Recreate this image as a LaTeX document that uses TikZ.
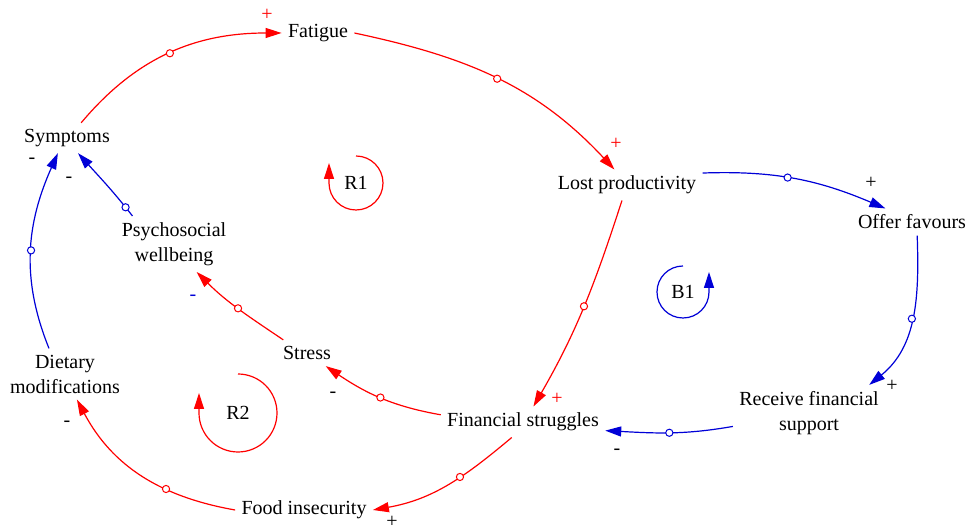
\documentclass[tikz,border=0pt]{standalone}
\usepackage{fontspec}
\setmainfont{Liberation Serif}
\newfontfamily\cldfont{Liberation Serif}
\usepackage{tikz}
\usetikzlibrary{arrows.meta}
\definecolor{linkred}{RGB}{255,0,0}
\definecolor{linkblue}{RGB}{0,0,215}
\tikzset{
  var/.style={align=center, inner sep=3pt, font=\cldfont\fontsize{10}{12.5}\selectfont},
  link/.style={line width=0.6pt, -{Triangle[length=8pt,width=5pt]}},
  redlink/.style={link, color=linkred},
  bluelink/.style={link, color=linkblue},
  hole/.style={circle, draw, fill=white, line width=0.5pt, inner sep=0pt, minimum size=3.6pt},
  pol/.style={inner sep=0pt, font=\cldfont\fontsize{10}{12}\selectfont},
  loopsym/.style={line width=0.6pt, -{Triangle[length=8pt,width=5pt]}}
}

\begin{document}
\begin{tikzpicture}[x=0.5pt, y=0.5pt]
  \useasboundingbox (0,0) rectangle (966,530);
  \node[var] (fat) at (318,497) {Fatigue};
  \node[var] (sym) at (67,392) {Symptoms};
  \node[var] (lost) at (627,345) {Lost productivity};
  \node[var] (offer) at (912,308) {Offer favours};
  \node[var] (psy) at (174,286) {Psychosocial\\wellbeing};
  \node[var] (stress) at (307,177) {Stress};
  \node[var] (diet) at (65,156) {Dietary\\modifications};
  \node[var] (fin) at (523,108) {Financial struggles};
  \node[var] (recv) at (809,117) {Receive financial\\support};
  \node[var] (food) at (304,20) {Food insecurity};

  \node[var] (r1) at (356,347) {R1};
  \node[var] (r2) at (238,117) {R2};
  \node[var] (b1) at (683,238) {B1};

  \draw[redlink] (sym.47) to[out=50, in=180] node[hole]{} (fat.west);
  \draw[redlink] (fat.east) to[out=-12, in=133] node[hole]{} (lost.129);
  \draw[redlink] (lost.252) to[out=-108, in=60] node[hole]{} (fin.56);
  \draw[bluelink] (lost.9) to[out=2, in=157] node[hole, pos=0.45]{} (offer.153);
  \draw[bluelink] (offer.291) to[out=-88, in=39] node[hole]{} (recv.25);
  \draw[bluelink] (recv.190) to[out=190, in=-3] node[hole]{} (fin.354);
  \draw[redlink] (fin.175) to[out=170, in=-34] node[hole]{} (stress.325);
  \draw[redlink] (stress.151) to[out=146, in=-45] node[hole]{} (psy.309);
  \draw[bluelink] (psy.146) to[out=128, in=-48] node[hole, pos=0.12]{} (sym.306);
  \draw[redlink] (fin.234) to[out=220, in=10] node[hole, pos=0.4]{} (food.east);
  \draw[redlink] (food.west) to[out=170, in=-62] node[hole, pos=0.35]{} (diet.295);
  \draw[bluelink] (diet.122) to[out=112, in=-114] node[hole]{} (sym.239);

  \draw[loopsym, linkred] ([yshift=13.5pt]r1.center) arc[start angle=90, end angle=-180, radius=27] -- ++(0,20);
  \draw[loopsym, linkred] ([yshift=19.5pt]r2.center) arc[start angle=90, end angle=-180, radius=39] -- ++(0,20);
  \draw[loopsym, linkblue] ([yshift=13pt]b1.center) arc[start angle=90, end angle=360, radius=26] -- ++(0,20);

  \node[pol, text=linkred] (s1) at (267,515) {+};
  \node[pol, text=linkred] (s2) at (616,386) {+};
  \node[pol, text=linkred] (s3) at (557,131) {+};
  \node[pol] (s4) at (871,347) {+};
  \node[pol] (s5) at (892,144) {+};
  \node[pol] (s6) at (617,78) {-};
  \node[pol] (s7) at (333,135) {-};
  \node[pol, text=linkblue] (s8) at (193,232) {-};
  \node[pol] (s9) at (69,350) {-};
  \node[pol] (s10) at (392,8) {+};
  \node[pol] (s11) at (67,106) {-};
  \node[pol] (s12) at (32,369) {-};
\end{tikzpicture}
\end{document}
